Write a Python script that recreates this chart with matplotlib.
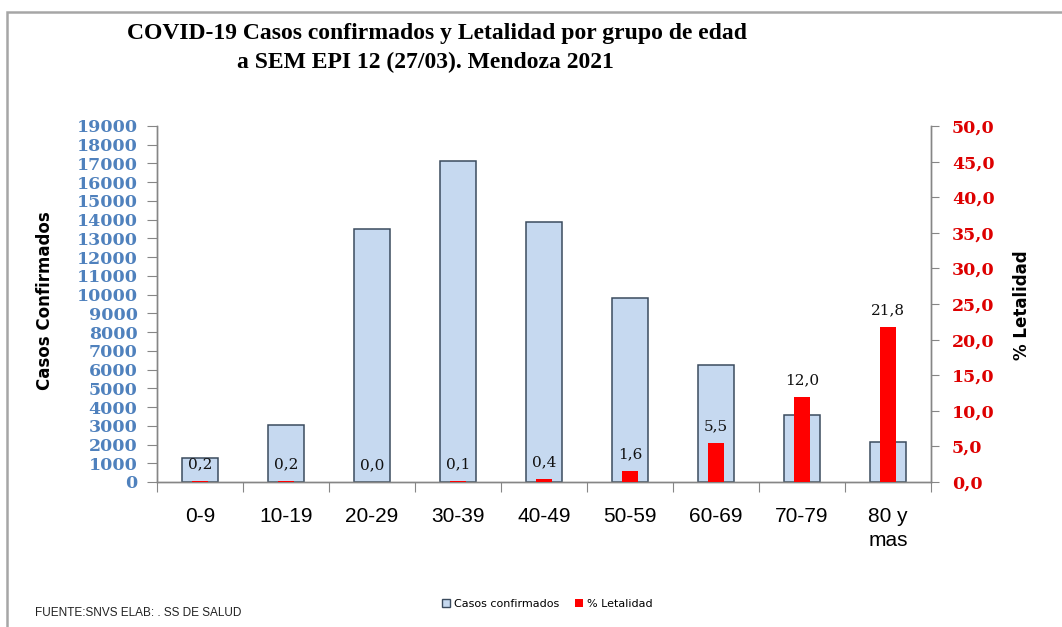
import matplotlib

matplotlib.use("Agg")
import matplotlib.pyplot as plt
import numpy as np
from matplotlib import font_manager
from matplotlib.patches import Patch, Rectangle
from matplotlib.ticker import FixedLocator, FuncFormatter

# grupos de edad y series
grupos = ["0-9", "10-19", "20-29", "30-39", "40-49", "50-59", "60-69", "70-79", "80 y\nmas"]
casos = [1300, 3050, 13500, 17150, 13900, 9800, 6250, 3550, 2150]
letalidad = [0.2, 0.2, 0.0, 0.1, 0.4, 1.6, 5.5, 12.0, 21.8]

titulo_1 = "COVID-19 Casos confirmados y Letalidad por grupo de edad"
titulo_2 = "a SEM EPI 12 (27/03). Mendoza 2021"
fuente = "FUENTE:SNVS ELAB: . SS DE SALUD"

AZUL = "#C6D9F0"
BORDE = "#3B4B5E"
ROJO = "#FF0000"
GRIS = "#868686"

nombres = {f.name for f in font_manager.fontManager.ttflist}
angosta = "Liberation Sans Narrow" if "Liberation Sans Narrow" in nombres else "Liberation Sans"

fig = plt.figure(figsize=(10.62, 6.27), dpi=100)
fig.patch.set_facecolor("white")

# marco exterior gris
fig.patches.append(
    Rectangle((7 / 1062, -0.05), 1.2, 1 - 12 / 627 + 0.05, transform=fig.transFigure,
              fill=False, edgecolor="#A6A6A6", linewidth=1.8, zorder=0)
)

ax = fig.add_axes([157 / 1062, 1 - 482 / 627, (931 - 157) / 1062, (482 - 126) / 627])
ax2 = ax.twinx()

x = np.arange(len(grupos))
ax.bar(x, casos, width=0.43, color=AZUL, edgecolor=BORDE, linewidth=1.1, zorder=2)
ax2.bar(x, letalidad, width=0.19, color=ROJO, edgecolor="none", zorder=3)

for xi, v in zip(x, letalidad):
    ax2.annotate(
        f"{v:.1f}".replace(".", ","),
        xy=(xi, v),
        xytext=(0, 7),
        textcoords="offset points",
        ha="center",
        va="bottom",
        fontsize=11,
        family="DejaVu Serif",
        color="#111111",
        zorder=5,
    )

ax.set_xlim(-0.5, len(grupos) - 0.5)
ax.set_ylim(0, 19000)
ax2.set_ylim(0, 50)

ax.yaxis.set_major_locator(FixedLocator(np.arange(0, 19001, 1000)))
ax2.yaxis.set_major_locator(FixedLocator(np.arange(0, 50.1, 5)))
ax2.yaxis.set_major_formatter(FuncFormatter(lambda v, _: f"{v:.1f}".replace(".", ",")))

# marcas en los límites de cada grupo, etiquetas en el centro
ax.set_xticks(np.arange(-0.5, len(grupos)), labels=[""] * (len(grupos) + 1))
ax.set_xticks(x, labels=grupos, minor=True)
ax.tick_params(axis="x", which="major", length=7, color=GRIS, direction="out")
ax.tick_params(axis="x", which="minor", length=0, pad=18)
for lbl in ax.get_xticklabels(minor=True):
    lbl.set_fontfamily(angosta)
    lbl.set_fontsize(15 if angosta == "Liberation Sans" else 16)
    lbl.set_linespacing(1.3)

ax.tick_params(axis="y", length=7, color=GRIS, pad=7, labelcolor="#4F81BD")
ax2.tick_params(axis="y", length=6, color=GRIS, pad=9, labelcolor="#DD0000")
for lbl in ax.get_yticklabels() + ax2.get_yticklabels():
    lbl.set_fontfamily("DejaVu Serif")
    lbl.set_fontweight("bold")
    lbl.set_fontsize(12.5)

for a in (ax, ax2):
    a.spines["top"].set_visible(False)
    for s in ("left", "right", "bottom"):
        a.spines[s].set_color(GRIS)
        a.spines[s].set_linewidth(1.0)
    a.set_facecolor("none")

fig.text(45 / 1062, 1 - 301 / 627, "Casos Confirmados", rotation=90, ha="center", va="center",
         fontsize=12, fontweight="bold", family="DejaVu Sans")
fig.text(1022 / 1062, 1 - 305 / 627, "% Letalidad", rotation=90, ha="center", va="center",
         fontsize=12, fontweight="bold", family="DejaVu Sans")

fig.text(437 / 1062, 1 - 33 / 627, titulo_1, ha="center", va="center",
         fontsize=17, fontweight="bold", family="Liberation Serif")
fig.text(425 / 1062, 1 - 62 / 627, titulo_2, ha="center", va="center",
         fontsize=17, fontweight="bold", family="Liberation Serif")

handles = [
    Patch(facecolor=AZUL, edgecolor=BORDE, linewidth=1.0),
    Patch(facecolor=ROJO, edgecolor="none"),
]
fig.legend(
    handles,
    ["Casos confirmados", "% Letalidad"],
    loc="center",
    bbox_to_anchor=(547 / 1062, 1 - 604 / 627),
    ncol=2,
    frameon=False,
    fontsize=8,
    handlelength=0.8,
    handleheight=0.8,
    handletextpad=0.3,
    columnspacing=1.4,
)

fig.text(35 / 1062, 1 - 613 / 627, fuente, ha="left", va="center",
         fontsize=8.5, family=angosta, color="#222222")

fig.savefig("out.png", dpi=100)
